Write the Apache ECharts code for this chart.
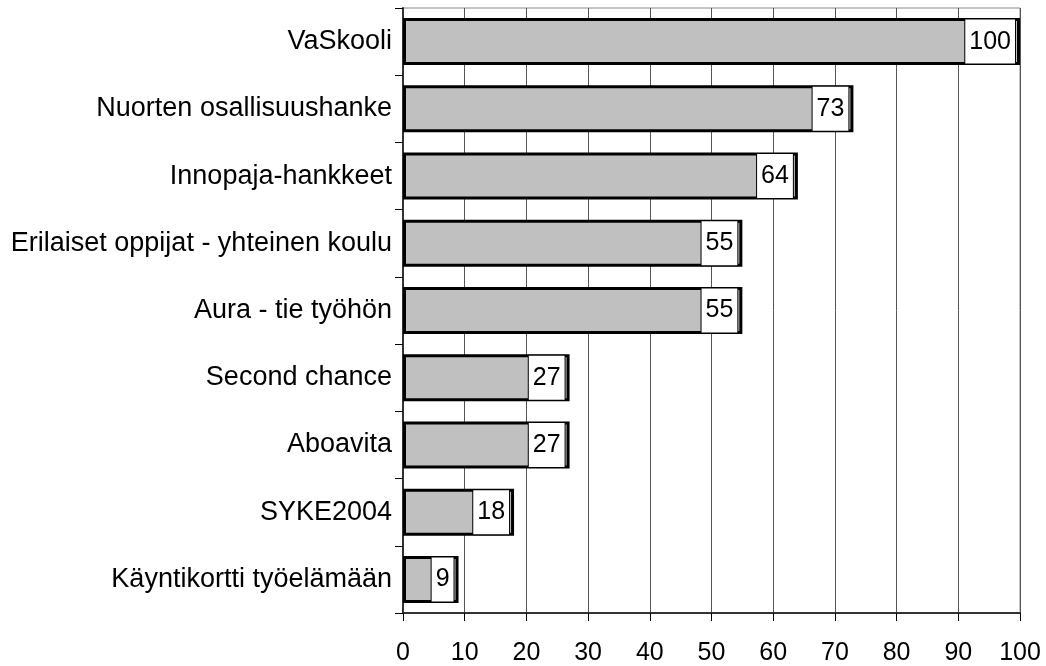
<!DOCTYPE html>
<html>
<head>
<meta charset="utf-8">
<script src="https://cdn.jsdelivr.net/npm/echarts@6/dist/echarts.min.js"></script>
<style>
  html, body { margin: 0; padding: 0; background: #fff; }
  #chart-container { width: 1046px; height: 666px; }
</style>
</head>
<body>
<div id="chart-container"></div>
<script>
let categories = [
    "VaSkooli",
    "Nuorten osallisuushanke",
    "Innopaja-hankkeet",
    "Erilaiset oppijat - yhteinen koulu",
    "Aura - tie työhön",
    "Second chance",
    "Aboavita",
    "SYKE2004",
    "Käyntikortti työelämään",
];
let values = [100, 73, 64, 55, 55, 27, 27, 18, 9];

let dom = document.getElementById("chart-container");
let myChart = echarts.init(dom, null, {
    renderer: "canvas",
    useDirtyRect: false,
});
let option;

option = {
    animation: false,
    grid: {
        left: 403,
        right: 26,
        top: 8,
        bottom: 53,
        show: true,
        borderColor: "#888",
        borderWidth: 1,
    },
    textStyle: {
        fontFamily: "'Liberation Sans', Arial, sans-serif",
    },
    xAxis: {
        type: "value",
        min: 0,
        max: 100,
        interval: 10,
        axisLine: { show: true, lineStyle: { color: "#333", width: 2 } },
        axisTick: { show: true, length: 8, lineStyle: { color: "#000" } },
        axisLabel: { color: "#000", fontSize: 25, margin: 28 },
        splitLine: { show: true, lineStyle: { color: "#555", width: 1 } },
    },
    yAxis: {
        type: "category",
        inverse: true,
        data: categories,
        axisLine: { show: true, lineStyle: { color: "#333", width: 2 } },
        axisTick: { show: true, length: 8, lineStyle: { color: "#000" } },
        axisLabel: { color: "#000", fontSize: 27, margin: 11 },
    },
    series: [{
        type: "bar",
        data: values,
        barWidth: 47,
        itemStyle: {
            color: "#c0c0c0",
            borderColor: "#000",
            borderWidth: 3,
        },
        label: {
            show: true,
            position: "insideRight",
            distance: 5,
            color: "#000",
            fontSize: 25,
            backgroundColor: "#fff",
            borderColor: "#000",
            borderWidth: 1,
            padding: [10, 4, 9, 4],
        },
    }],
};

if (option && typeof option === "object") {
    myChart.setOption(option);
}

window.addEventListener("resize", myChart.resize);
</script>
</body>
</html>
